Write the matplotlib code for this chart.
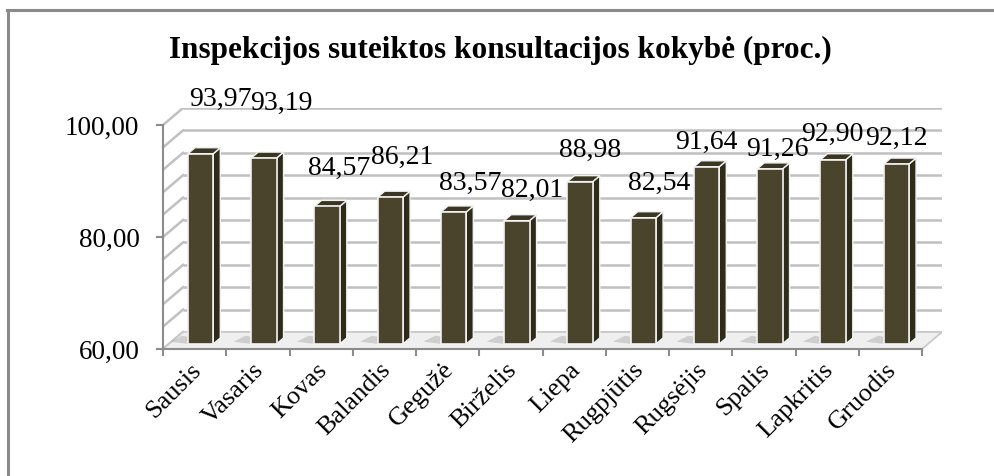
import numpy as np
import matplotlib
matplotlib.use("Agg")
from matplotlib import pyplot as plt
from matplotlib.patches import Polygon
from matplotlib.lines import Line2D
from matplotlib.transforms import ScaledTranslation

months = ["Sausis", "Vasaris", "Kovas", "Balandis", "Gegužė", "Birželis",
          "Liepa", "Rugpjūtis", "Rugsėjis", "Spalis", "Lapkritis", "Gruodis"]
values = [93.97, 93.19, 84.57, 86.21, 83.57, 82.01,
          88.98, 82.54, 91.64, 91.26, 92.90, 92.12]
y_ticks = [60, 80, 100]
title = "Inspekcijos suteiktos konsultacijos kokybė (proc.)"

# label nudges (pixels) - excel put them a bit all over the place
lab_dx = [20, 17, 12, 12, 17, 15, 10, 16, 0, 7, -1, 0]
lab_dy = [48, 48, 31, 33, 22, 24, 25, 28, 18, 13, 19, 19]

plt.rcParams['font.family'] = ['Liberation Serif', 'DejaVu Serif']

YMIN, YMAX = 60, 100
DX = 20 / 63.25      # depth of the 3d box, in categories
DY = 17 / 5.6        # depth of the 3d box, in value units
F0, F1 = 0.30, 0.65  # front / back of the bars inside the depth
BW = 0.40            # bar width

fig = plt.figure(figsize=(9.94, 4.76), dpi=100)
ax = fig.add_axes([0.164, 0.2668, 0.7837, 0.5063])
n = len(values)
ax.set_xlim(0, n + DX)
ax.set_ylim(YMIN, YMAX + DY)

grid_c = "#c0c0c0"
# back wall + side wall grid
for v in np.arange(YMIN, YMAX + 1, 4):
    ax.plot([DX, n + DX], [v + DY, v + DY], color=grid_c, lw=1.8, zorder=1,
            solid_capstyle="butt")
    ax.plot([0, DX], [v, v + DY], color=grid_c, lw=1.8, zorder=1)

# floor
floor = Polygon([(0, YMIN), (n, YMIN), (n + DX, YMIN + DY), (DX, YMIN + DY)],
                closed=True, facecolor="#efefef", edgecolor="#c8c8c8", lw=1.2, zorder=2)
ax.add_patch(floor)

front_c = "#4b442d"
side_c = "#2e2b1b"
top_c = "#3b3523"
edge_c = "#f2f2f2"
ddx, ddy = (F1 - F0) * DX, (F1 - F0) * DY

for i, v in enumerate(values):
    xl = i + 0.5 - BW / 2 + F0 * DX
    xr = xl + BW
    yb = YMIN + F0 * DY
    yt = v + F0 * DY
    # shadow on the floor
    sh = Polygon([(xl - 0.28, yb + 0.4), (xl, yb), (xl + ddx, yb + ddy), (xl - 0.2 + ddx, yb + ddy + 0.4)],
                 closed=True, facecolor="#b8b8b8", edgecolor="none", alpha=0.6, zorder=3)
    ax.add_patch(sh)
    side = Polygon([(xr, yb), (xr + ddx, yb + ddy), (xr + ddx, yt + ddy), (xr, yt)],
                   closed=True, facecolor=side_c, edgecolor=edge_c, lw=1.0, zorder=4)
    top = Polygon([(xl, yt), (xr, yt), (xr + ddx, yt + ddy), (xl + ddx, yt + ddy)],
                  closed=True, facecolor=top_c, edgecolor=edge_c, lw=1.0, zorder=4)
    front = Polygon([(xl, yb), (xr, yb), (xr, yt), (xl, yt)],
                    closed=True, facecolor=front_c, edgecolor=edge_c, lw=1.2, zorder=5)
    ax.add_patch(side)
    ax.add_patch(top)
    ax.add_patch(front)
    ax.annotate(f"{v:.2f}".replace(".", ","), (i + 0.5 + F0 * DX, yt),
                xytext=(lab_dx[i], lab_dy[i]), textcoords="offset pixels",
                ha="center", va="baseline", fontsize=20, color="#000000",
                zorder=10, annotation_clip=False)

# axes
for s in ["top", "right"]:
    ax.spines[s].set_visible(False)
axis_c = "#8c8c8c"
ax.spines["left"].set_bounds(YMIN, YMAX)
ax.spines["bottom"].set_bounds(0, n)
for s in ["left", "bottom"]:
    ax.spines[s].set_color(axis_c)
    ax.spines[s].set_linewidth(1.5)
    ax.spines[s].set_zorder(6)

ax.set_yticks(y_ticks)
ax.set_yticklabels([f"{t:.2f}".replace(".", ",") for t in y_ticks], fontsize=19.5)
ax.tick_params(axis="y", length=5, width=1.5, color=axis_c, pad=12)

ax.set_xticks(np.arange(n) + 0.5)
ax.set_xticklabels(months, rotation=45, ha="right", rotation_mode="anchor",
                   fontsize=19)
ax.tick_params(axis="x", which="major", length=0, pad=7)
ax.set_xticks(np.arange(n + 1), minor=True)
ax.tick_params(axis="x", which="minor", length=5, width=1.5, color=axis_c)
shift = ScaledTranslation(-5 / 100, 0, fig.dpi_scale_trans)
for lab in ax.get_xticklabels():
    lab.set_transform(lab.get_transform() + shift)

fig.text(0.503, 0.893, title, ha="center", va="center", fontsize=22.5, fontweight="bold")

# chart frame (cut off on the right/bottom)
fig.add_artist(Line2D([0.008, 0.008], [0.0, 0.979], color="#8a8a8a", lw=2.2))
fig.add_artist(Line2D([0.007, 1.0], [0.979, 0.979], color="#8a8a8a", lw=2.2))

fig.savefig("out.png", dpi=100)
